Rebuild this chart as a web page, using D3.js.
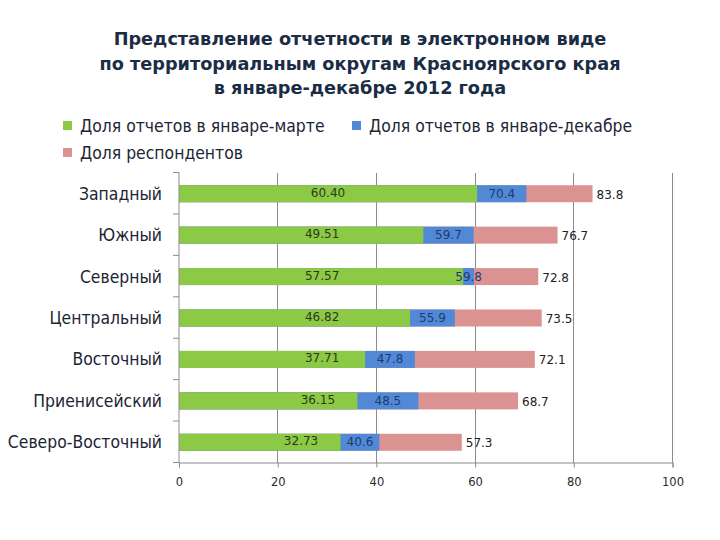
<!DOCTYPE html>
<html>
<head>
<meta charset="utf-8">
<script src="https://cdn.jsdelivr.net/npm/d3@7"></script>
<style>
  html, body { margin: 0; padding: 0; background: #ffffff; }
  svg { display: block; }
</style>
</head>
<body>
<svg id="chart" width="720" height="540"></svg>
<script>
// ---- data ----
const titleLines = [
  "Представление отчетности в электронном виде",
  "по территориальным округам Красноярского края",
  "в январе-декабре 2012 года"
];
const categories = ["Западный", "Южный", "Северный", "Центральный", "Восточный", "Приенисейский", "Северо-Восточный"];
const seriesNames = ["Доля отчетов в январе-марте", "Доля отчетов в январе-декабре", "Доля респондентов"];
const janMar = [60.40, 49.51, 57.57, 46.82, 37.71, 36.15, 32.73];
const janDec = [70.4, 59.7, 59.8, 55.9, 47.8, 48.5, 40.6];
const respondents = [83.8, 76.7, 72.8, 73.5, 72.1, 68.7, 57.3];
const xTicks = [0, 20, 40, 60, 80, 100];

// ---- styles ----
const colors = ["#8cc944", "#5189d6", "#db9391"];
const svg = d3.select("#chart");

// Title
svg.append("g").selectAll("text").data(titleLines).join("text")
  .attr("x", 360).attr("y", (d, i) => 45 + i * 24.5)
  .attr("text-anchor", "middle")
  .attr("font-family", "DejaVu Sans, Verdana, sans-serif")
  .attr("font-weight", "bold").attr("font-size", 17.7)
  .attr("fill", "#1b2c45")
  .text(d => d);

// Legend
const legendPos = [[63, 121], [352, 121], [63, 148]];
const lg = svg.append("g").selectAll("g").data(seriesNames).join("g")
  .attr("transform", (d, i) => `translate(${legendPos[i][0]},${legendPos[i][1]})`);
lg.append("rect").attr("width", 9).attr("height", 9).attr("fill", (d, i) => colors[i]);
lg.append("text").attr("x", 17).attr("y", 11)
  .attr("font-family", "DejaVu Sans Condensed, DejaVu Sans, sans-serif")
  .attr("font-size", 17.4).attr("fill", "#1c2535")
  .text(d => d);

// Scales
const x = d3.scaleLinear().domain([0, 100]).range([179, 672.5]);
const y = d3.scaleBand().domain(categories).range([172.5, 462.5]).padding(0);
const barH = y.bandwidth() * 0.41;
const barY = c => y(c) + (y.bandwidth() - barH) / 2 + 0.5;

// Gridlines
svg.append("g").selectAll("line").data(xTicks.slice(1)).join("line")
  .attr("x1", d => x(d)).attr("x2", d => x(d))
  .attr("y1", 172.5).attr("y2", 462.5)
  .attr("stroke", "#8c8c8c").attr("stroke-width", 1)
  .attr("shape-rendering", "crispEdges");

// Bars (overlapped, each from zero)
const rows = categories.map((c, i) => ({ c, a: janMar[i], b: janDec[i], r: respondents[i] }));
const bars = svg.append("g");
bars.selectAll(".r").data(rows).join("rect").attr("class", "r")
  .attr("x", x(0)).attr("y", d => barY(d.c))
  .attr("width", d => x(d.r) - x(0)).attr("height", barH).attr("fill", colors[2]);
bars.selectAll(".b").data(rows).join("rect").attr("class", "b")
  .attr("x", x(0)).attr("y", d => barY(d.c))
  .attr("width", d => x(d.b) - x(0)).attr("height", barH).attr("fill", colors[1]);
bars.selectAll(".a").data(rows).join("rect").attr("class", "a")
  .attr("x", x(0)).attr("y", d => barY(d.c))
  .attr("width", d => x(d.a) - x(0)).attr("height", barH).attr("fill", colors[0]);

// Axes
const xAxis = svg.append("g").attr("transform", "translate(0,462.5)")
  .call(d3.axisBottom(x).tickValues(xTicks).tickSize(5).tickPadding(10).tickFormat(d3.format("d")));
xAxis.select(".domain").attr("stroke", "#8c8c8c");
xAxis.selectAll(".tick line").attr("stroke", "#8c8c8c");
xAxis.selectAll("text").attr("font-family", "DejaVu Sans, Verdana, sans-serif")
  .attr("font-size", 11.5).attr("fill", "#2a2a2a");

const yAxis = svg.append("g").attr("transform", "translate(179,0)");
yAxis.append("line").attr("x1", 0).attr("x2", 0).attr("y1", 172.5).attr("y2", 462.5)
  .attr("stroke", "#8c8c8c");
const bounds = categories.map(c => y(c)).concat([y.range()[1]]);
yAxis.selectAll(".bt").data(bounds).join("line").attr("class", "bt")
  .attr("x1", -6).attr("x2", 0).attr("y1", d => d).attr("y2", d => d)
  .attr("stroke", "#8c8c8c");
svg.append("g").selectAll("text").data(categories).join("text")
  .attr("x", 162).attr("y", c => y(c) + y.bandwidth() / 2 + 6.5)
  .attr("text-anchor", "end")
  .attr("font-family", "DejaVu Sans Condensed, DejaVu Sans, sans-serif")
  .attr("font-size", 17.4).attr("fill", "#1c2535")
  .text(c => c);

// Data labels
const lbl = svg.append("g").attr("font-family", "DejaVu Sans, Verdana, sans-serif").attr("font-size", 12);
lbl.selectAll(".la").data(rows).join("text").attr("class", "la")
  .attr("x", d => x(Math.min(Math.max(d.a / 2, 29), d.a - 8)))
  .attr("y", d => barY(d.c) + barH / 2 + 3)
  .attr("text-anchor", "middle").attr("fill", "#2b3a1e")
  .text(d => d3.format(".2f")(d.a));
lbl.selectAll(".lb").data(rows).join("text").attr("class", "lb")
  .attr("x", d => x((d.a + d.b) / 2))
  .attr("y", d => barY(d.c) + barH / 2 + 4)
  .attr("text-anchor", "middle").attr("fill", "#1f3a6e")
  .text(d => d3.format(".1f")(d.b));
lbl.selectAll(".lr").data(rows).join("text").attr("class", "lr")
  .attr("x", d => x(d.r) + 4)
  .attr("y", d => barY(d.c) + barH / 2 + 5)
  .attr("text-anchor", "start").attr("fill", "#222")
  .text(d => d3.format(".1f")(d.r));
</script>
</body>
</html>
